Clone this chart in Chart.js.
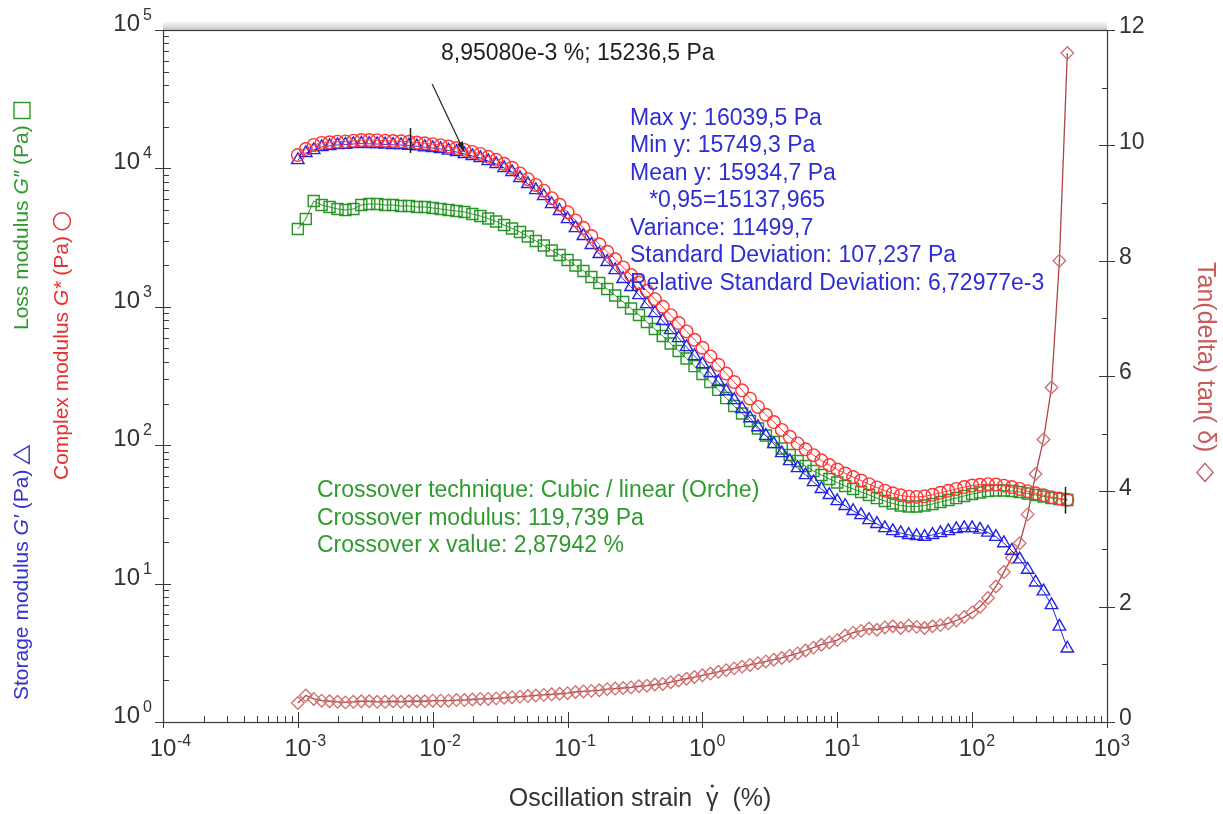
<!DOCTYPE html>
<html>
<head>
<meta charset="utf-8">
<title>Amplitude sweep</title>
<script src="https://cdn.jsdelivr.net/npm/chart.js@4.4.1/dist/chart.umd.min.js"></script>
<style>
  html, body { margin: 0; padding: 0; background: #fff; }
  canvas { display: block; }
</style>
</head>
<body>
<canvas id="sweep" width="1223" height="814"></canvas>
<script>
// oscillation strain, %
var strain = [
  0.001, 0.001145, 0.001311, 0.001501, 0.001719, 0.001968, 0.002254, 0.002581, 0.002955, 0.003384, 0.003875, 0.004437, 0.00508, 0.005817, 0.006661, 0.007627, 0.008733,
  0.01, 0.01145, 0.01311, 0.01501, 0.01719, 0.01968, 0.02254, 0.02581, 0.02955, 0.03384, 0.03875, 0.04437, 0.0508, 0.05817, 0.06661, 0.07627, 0.08733,
  0.1, 0.1145, 0.1311, 0.1501, 0.1719, 0.1968, 0.2254, 0.2581, 0.2955, 0.3384, 0.3875, 0.4437, 0.508, 0.5817, 0.6661, 0.7627, 0.8733,
  1, 1.145, 1.311, 1.501, 1.719, 1.968, 2.254, 2.581, 2.955, 3.384, 3.875, 4.437, 5.08, 5.817, 6.661, 7.627, 8.733,
  10, 11.45, 13.11, 15.01, 17.19, 19.68, 22.54, 25.81, 29.55, 33.84, 38.75, 44.37, 50.8, 58.17, 66.61, 76.27, 87.33,
  100, 114.5, 131.1, 150.1, 171.9, 196.8, 225.4, 258.1, 295.5, 338.4, 387.5, 443.7, 508
];

// G' (Pa)
var storageMod = [
  11500, 12920, 13580, 14280, 14520, 14760, 14850, 15010, 15100, 15050, 15000, 14900, 14800, 14750, 14600, 14450, 14250,
  14040, 13810, 13470, 13140, 12710, 12290, 11890, 11310, 10760, 10070, 9420, 8520, 7720, 6980, 6320, 5530, 4925,
  4310, 3710, 3250, 2800, 2410, 2110, 1845, 1590, 1391, 1217, 1048, 902, 790, 680, 595, 512, 441,
  386, 332, 286, 246, 212, 183, 157, 135, 117, 102, 87.8, 76.9, 68.4, 60.9, 54.2, 48.3, 43.7,
  39.5, 36.4, 33.5, 31.3, 28.8, 27.0, 25.2, 24.0, 23.2, 22.5, 22.1, 21.8, 22.5, 23.2, 24.0, 24.8, 25.2,
  25.2, 24.6, 23.4, 21.8, 19.6, 17.3, 15.0, 12.6, 10.2, 8.8, 7.0, 4.9, 3.4
];

// G'' (Pa)
var lossMod = [
  3650, 4310, 5815, 5440, 5260, 5090, 5005, 5090, 5440, 5530, 5530, 5440, 5440, 5350, 5350, 5260, 5260,
  5175, 5090, 5005, 4922, 4842, 4684, 4530, 4345, 4135, 3900, 3680, 3472, 3221, 2988, 2773, 2552, 2367,
  2178, 1988, 1815, 1642, 1486, 1345, 1207, 1083, 972, 873, 777, 691, 615, 543, 479, 423, 373,
  327, 286, 251, 219, 192, 169.5, 149.6, 132, 117.5, 105.5, 94.7, 85.0, 76.9, 70.7, 65.1, 60.9, 57.0,
  53.8, 50.7, 48.3, 45.9, 43.7, 41.5, 39.5, 37.9, 36.7, 36.1, 36.1, 36.7, 37.6, 38.9, 40.2, 41.5, 43.0,
  44.4, 45.5, 46.7, 47.1, 47.1, 46.7, 45.9, 44.8, 43.7, 42.6, 41.5, 40.9, 40.2
];

// G* (Pa)
var complexMod = [
  12500, 13800, 14770, 15280, 15440, 15610, 15670, 15850, 16030, 16040, 15990, 15860, 15770, 15690, 15550, 15380, 15190,
  14960, 14720, 14370, 14030, 13600, 13150, 12720, 12120, 11530, 10800, 10110, 9200, 8365, 7590, 6900, 6090, 5460,
  4830, 4210, 3720, 3245, 2830, 2500, 2205, 1925, 1697, 1498, 1305, 1136, 1001, 870, 764, 664, 578,
  506, 438, 381, 329, 286, 249, 217, 189, 166, 147, 129, 115, 103, 93.3, 84.7, 77.7, 71.8,
  66.7, 62.4, 58.8, 55.6, 52.3, 49.5, 46.9, 44.9, 43.4, 42.5, 42.3, 42.7, 43.8, 45.3, 46.8, 48.3, 49.8,
  51.1, 51.8, 52.3, 51.9, 51.0, 49.8, 48.3, 46.5, 44.9, 43.5, 42.1, 41.2, 40.3
];

// tan(delta)
var tanDelta = [
  0.33, 0.46, 0.40, 0.37, 0.36, 0.35, 0.34, 0.35, 0.36, 0.36, 0.35, 0.35, 0.36, 0.35, 0.36, 0.36, 0.36,
  0.37, 0.37, 0.37, 0.38, 0.38, 0.39, 0.40, 0.40, 0.41, 0.42, 0.43, 0.44, 0.45, 0.46, 0.47, 0.48, 0.49,
  0.50, 0.52, 0.53, 0.54, 0.55, 0.57, 0.58, 0.59, 0.60, 0.62, 0.63, 0.65, 0.66, 0.69, 0.72, 0.75, 0.78,
  0.81, 0.84, 0.87, 0.90, 0.93, 0.96, 0.99, 1.02, 1.05, 1.08, 1.11, 1.15, 1.19, 1.24, 1.29, 1.34, 1.38,
  1.42, 1.50, 1.55, 1.58, 1.62, 1.60, 1.64, 1.66, 1.63, 1.67, 1.65, 1.63, 1.66, 1.68, 1.71, 1.76, 1.82,
  1.90, 2.00, 2.15, 2.35, 2.60, 2.85, 3.10, 3.60, 4.30, 4.90, 5.80, 8.00, 11.60
];

var xDecades = [-4, -3, -2, -1, 0, 1, 2, 3];
var yDecades = [0, 1, 2, 3, 4, 5];
var tanTicks = [0, 2, 4, 6, 8, 10, 12];

var pointLabel = '8,95080e-3 %; 15236,5 Pa';
var statLines = [
  'Max y: 16039,5 Pa',
  'Min y: 15749,3 Pa',
  'Mean y: 15934,7 Pa',
  '   *0,95=15137,965',
  'Variance: 11499,7',
  'Standard Deviation: 107,237 Pa',
  'Relative Standard Deviation: 6,72977e-3'
];
var crossLines = [
  'Crossover technique: Cubic / linear (Orche)',
  'Crossover modulus: 119,739 Pa',
  'Crossover x value: 2,87942 %'
];

var FONT = '"Liberation Sans", Arial, Helvetica, sans-serif';
var BLUE = '#2424e0', GREEN = '#279527', RED = '#ff3434', TAN_LINE = '#b04545', TAN_PT = '#cf6f6f';

function makePoints(ys) {
  return strain.map(function (x, i) { return { x: x, y: ys[i] }; });
}

function drawRuns(c, runs, x, y) {
  runs.forEach(function (r) {
    c.font = r.font;
    c.fillText(r.text, x, y);
    x += c.measureText(r.text).width;
  });
  return x;
}

function symbol(c, kind, x, y, s, color) {
  c.save();
  c.strokeStyle = color;
  c.lineWidth = 1.4;
  c.beginPath();
  if (kind === 'triangle') {
    c.moveTo(x, y - s * 0.5);
    c.lineTo(x + s * 0.55, y + s * 0.45);
    c.lineTo(x - s * 0.55, y + s * 0.45);
    c.closePath();
  } else if (kind === 'square') {
    c.rect(x - s / 2, y - s / 2, s, s);
  } else if (kind === 'circle') {
    c.arc(x, y, s / 2, 0, Math.PI * 2);
  } else {
    c.moveTo(x - s * 0.5, y);
    c.lineTo(x, y - s * 0.45);
    c.lineTo(x + s * 0.5, y);
    c.lineTo(x, y + s * 0.45);
    c.closePath();
  }
  c.stroke();
  c.restore();
}

var overlay = {
  id: 'overlay',
  afterDraw: function (chart) {
    var c = chart.ctx, a = chart.chartArea;
    var xs = chart.scales.x, ys = chart.scales.y, ts = chart.scales.y2;

    function seg(x1, y1, x2, y2) {
      c.beginPath(); c.moveTo(x1, y1); c.lineTo(x2, y2); c.stroke();
    }

    c.save();

    // soft shadow above the plot frame
    var g = c.createLinearGradient(0, a.top - 9, 0, a.top);
    g.addColorStop(0, 'rgba(0,0,0,0)');
    g.addColorStop(1, 'rgba(0,0,0,0.22)');
    c.fillStyle = g;
    c.fillRect(a.left, a.top - 9, a.right - a.left, 9);

    c.strokeStyle = '#3a3a3a';
    c.lineWidth = 1.2;
    c.strokeRect(Math.round(a.left) + 0.5, Math.round(a.top) + 0.5,
      Math.round(a.right - a.left), Math.round(a.bottom - a.top));

    // tick marks
    c.lineWidth = 1;
    xDecades.forEach(function (e) {
      for (var m = 1; m <= 9; m++) {
        var v = m * Math.pow(10, e);
        if (v > xs.max * 1.0001) break;
        var px = Math.round(xs.getPixelForValue(v)) + 0.5;
        if (m === 1) seg(px, a.bottom + 6, px, a.bottom - 10);
        else seg(px, a.bottom, px, a.bottom - 6);
      }
    });
    yDecades.forEach(function (e) {
      for (var m = 1; m <= 9; m++) {
        var v = m * Math.pow(10, e);
        if (v > ys.max * 1.0001) break;
        var py = Math.round(ys.getPixelForValue(v)) + 0.5;
        if (m === 1) seg(a.left - 8, py, a.left + 8, py);
        else seg(a.left, py, a.left + 6, py);
      }
    });
    for (var t = 0; t <= 12; t++) {
      var ty = Math.round(ts.getPixelForValue(t)) + 0.5;
      if (t % 2 === 0) seg(a.right - 8, ty, a.right + 8, ty);
      else seg(a.right - 5, ty, a.right, ty);
    }

    // tick labels
    c.fillStyle = '#333';
    c.textBaseline = 'alphabetic';
    yDecades.forEach(function (e) {
      var py = ys.getPixelForValue(Math.pow(10, e));
      c.font = '24px ' + FONT;
      c.textAlign = 'right';
      c.fillText('10', a.left - 23, py + 1);
      c.font = '16px ' + FONT;
      c.textAlign = 'left';
      c.fillText(String(e), a.left - 20, py - 10);
    });
    xDecades.forEach(function (e) {
      var px = xs.getPixelForValue(Math.pow(10, e));
      c.font = '24px ' + FONT;
      c.textAlign = 'center';
      c.fillText('10', px, a.bottom + 34);
      c.font = '16px ' + FONT;
      c.textAlign = 'left';
      c.fillText(String(e), px + 14, a.bottom + 24);
    });
    c.font = '23px ' + FONT;
    c.textAlign = 'left';
    c.textBaseline = 'middle';
    tanTicks.forEach(function (v) {
      c.fillText(String(v), a.right + 12, ts.getPixelForValue(v) - 3);
    });

    // axis titles
    var T = '21px ' + FONT, TI = 'italic 21px ' + FONT;
    c.textAlign = 'left';
    c.textBaseline = 'middle';

    c.save();
    c.translate(22, 700);
    c.rotate(-Math.PI / 2);
    c.fillStyle = '#3232d2';
    var end = drawRuns(c, [{ text: 'Storage modulus ', font: T }, { text: 'G\u2032', font: TI }, { text: ' (Pa) ', font: T }], 0, 0);
    symbol(c, 'triangle', end + 9, 0, 16, '#3232d2');
    c.restore();

    c.save();
    c.translate(22, 330);
    c.rotate(-Math.PI / 2);
    c.fillStyle = '#2e9a2e';
    end = drawRuns(c, [{ text: 'Loss modulus ', font: T }, { text: 'G\u2033', font: TI }, { text: ' (Pa) ', font: T }], 0, 0);
    symbol(c, 'square', end + 9, 0, 16, '#2e9a2e');
    c.restore();

    c.save();
    c.translate(62, 480);
    c.rotate(-Math.PI / 2);
    c.fillStyle = '#e83030';
    end = drawRuns(c, [{ text: 'Complex modulus ', font: T }, { text: 'G*', font: TI }, { text: ' (Pa) ', font: T }], 0, 0);
    symbol(c, 'circle', end + 9, 0, 17, '#e83030');
    c.restore();

    c.save();
    c.translate(1205, 262);
    c.rotate(Math.PI / 2);
    c.fillStyle = '#c85a5a';
    c.font = '25px ' + FONT;
    c.fillText('Tan(delta) tan( \u03b4)', 0, 0);
    var w = c.measureText('Tan(delta) tan( \u03b4)').width;
    symbol(c, 'diamond', w + 20, 0, 18, '#c85a5a');
    c.restore();

    // x title with strain-rate dot over gamma
    c.fillStyle = '#333';
    c.textBaseline = 'alphabetic';
    c.font = '25px ' + FONT;
    var p1 = 'Oscillation strain  ', p2 = '\u03b3', p3 = '  (%)';
    var w1 = c.measureText(p1).width, w2 = c.measureText(p2).width, w3 = c.measureText(p3).width;
    var x0 = 640 - (w1 + w2 + w3) / 2, by = 806;
    c.textAlign = 'left';
    c.fillText(p1, x0, by);
    c.fillText(p2, x0 + w1, by);
    c.fillText(p3, x0 + w1 + w2, by);
    c.beginPath();
    c.arc(x0 + w1 + w2 / 2, by - 20, 1.6, 0, Math.PI * 2);
    c.fill();

    // cursor marks and pointer
    c.strokeStyle = '#222';
    c.lineWidth = 1.5;
    var cx1 = Math.round(xs.getPixelForValue(0.00673)) + 0.5;
    seg(cx1, ys.getPixelForValue(19600), cx1, ys.getPixelForValue(12900));
    var cx2 = Math.round(xs.getPixelForValue(491)) + 0.5;
    seg(cx2, ys.getPixelForValue(50), cx2, ys.getPixelForValue(32));

    var ax = xs.getPixelForValue(0.0099), ay = ys.getPixelForValue(40700);
    var bx = xs.getPixelForValue(0.0172), by2 = ys.getPixelForValue(13100);
    c.lineWidth = 1.2;
    seg(ax, ay, bx, by2);
    var ang = Math.atan2(by2 - ay, bx - ax);
    c.fillStyle = '#222';
    c.beginPath();
    c.moveTo(bx, by2);
    c.lineTo(bx - 11 * Math.cos(ang - 0.3), by2 - 11 * Math.sin(ang - 0.3));
    c.lineTo(bx - 11 * Math.cos(ang + 0.3), by2 - 11 * Math.sin(ang + 0.3));
    c.closePath();
    c.fill();

    // annotation text
    c.font = '23px ' + FONT;
    c.textAlign = 'left';
    c.fillStyle = '#1e1e1e';
    c.fillText(pointLabel, 441, 60);

    c.fillStyle = '#2e2ed6';
    statLines.forEach(function (s, i) {
      c.fillText(s, 630, 124.5 + 27.5 * i);
    });

    c.fillStyle = '#2f9a2f';
    crossLines.forEach(function (s, i) {
      c.fillText(s, 317, 497 + 27.5 * i);
    });

    c.restore();
  }
};

var ctx = document.getElementById('sweep').getContext('2d');

var sweepChart = new Chart(ctx, {
  type: 'scatter',
  data: {
    datasets: [
      {
        label: 'Complex modulus G*',
        data: makePoints(complexMod),
        yAxisID: 'y',
        showLine: true,
        borderColor: RED,
        backgroundColor: 'rgba(0,0,0,0)',
        borderWidth: 1,
        pointStyle: 'circle',
        pointRadius: 6.3,
        pointBorderWidth: 1.4,
        pointBackgroundColor: 'rgba(0,0,0,0)',
        order: 0
      },
      {
        label: "Storage modulus G'",
        data: makePoints(storageMod),
        yAxisID: 'y',
        showLine: true,
        borderColor: BLUE,
        backgroundColor: 'rgba(0,0,0,0)',
        borderWidth: 1,
        pointStyle: 'triangle',
        pointRadius: 7.2,
        pointBorderWidth: 1.4,
        pointBackgroundColor: 'rgba(0,0,0,0)',
        order: 1
      },
      {
        label: "Loss modulus G''",
        data: makePoints(lossMod),
        yAxisID: 'y',
        showLine: true,
        borderColor: GREEN,
        backgroundColor: 'rgba(0,0,0,0)',
        borderWidth: 1,
        pointStyle: 'rect',
        pointRadius: 7.8,
        pointBorderWidth: 1.4,
        pointBackgroundColor: 'rgba(0,0,0,0)',
        order: 2
      },
      {
        label: 'tan(delta)',
        data: makePoints(tanDelta),
        yAxisID: 'y2',
        showLine: true,
        borderColor: TAN_LINE,
        backgroundColor: 'rgba(0,0,0,0)',
        borderWidth: 1.3,
        pointStyle: 'rectRot',
        pointRadius: 6.3,
        pointBorderColor: TAN_PT,
        pointBorderWidth: 1.3,
        pointBackgroundColor: 'rgba(0,0,0,0)',
        order: 3
      }
    ]
  },
  options: {
    responsive: false,
    animation: false,
    events: [],
    layout: { padding: { top: 30, left: 0, right: 0, bottom: 0 } },
    plugins: {
      legend: { display: false },
      tooltip: { enabled: false }
    },
    scales: {
      x: {
        type: 'logarithmic',
        position: 'bottom',
        min: 1e-4,
        max: 1e3,
        ticks: { display: false },
        grid: { display: false },
        border: { display: false },
        afterFit: function (s) { s.height = 92; }
      },
      y: {
        type: 'logarithmic',
        position: 'left',
        min: 1,
        max: 1e5,
        ticks: { display: false },
        grid: { display: false },
        border: { display: false },
        afterFit: function (s) { s.width = 163; }
      },
      y2: {
        type: 'linear',
        position: 'right',
        min: 0,
        max: 12,
        ticks: { display: false },
        grid: { display: false },
        border: { display: false },
        afterFit: function (s) { s.width = 116; }
      }
    }
  },
  plugins: [overlay]
});
</script>
</body>
</html>
